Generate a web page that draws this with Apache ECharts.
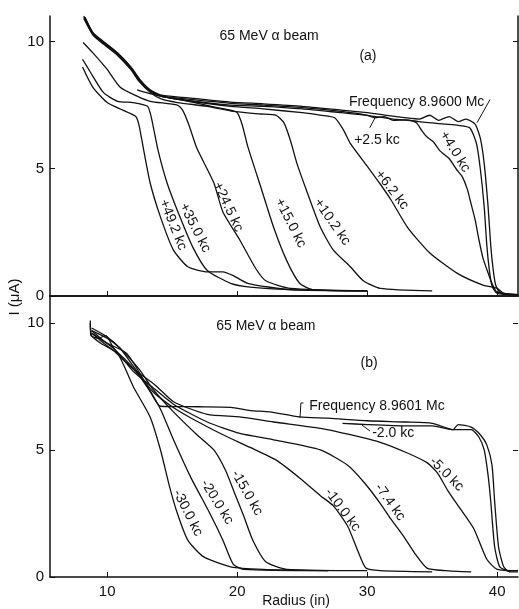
<!DOCTYPE html>
<html>
<head>
<meta charset="utf-8">
<script src="https://cdn.jsdelivr.net/npm/echarts@6/dist/echarts.min.js"></script>
<style>
html, body { margin: 0; padding: 0; background: #fff; }
#chart { width: 519px; height: 609px; }
</style>
</head>
<body>
<div id="chart"></div>
<script>
// ---- panel (a): 65 MeV alpha beam, Frequency 8.9600 Mc and offsets ----
const a_f0 = [[8.2,11.0],[8.9,10.35],[9.7,10.0],[10.8,9.55],[11.8,9.0],[12.5,8.5],[13.3,8.1],[14.1,7.9],[15.8,7.8],[19.5,7.62],[22,7.55],[25,7.45],[28,7.3],[30,7.2],[31.5,7.1],[33,7.0],[34,6.95],[34.8,7.1],[35.5,6.9],[36.3,7.05],[37,6.85],[37.6,6.95],[38.3,6.75],[38.7,6.2],[39.0,5.2],[39.3,3.5],[39.5,2.0],[39.7,1.0],[39.9,0.4],[40.3,0.1],[41.6,0.05]];
const a_p25 = [[8.3,10.95],[8.95,10.3],[9.8,9.95],[10.9,9.5],[11.9,8.95],[12.6,8.45],[13.4,8.05],[14.2,7.85],[15.8,7.75],[19.5,7.57],[22,7.5],[25,7.4],[28,7.25],[30,7.1],[30.6,7.0],[31.3,7.05],[32,6.9],[33,6.92],[34,6.85],[35,6.8],[36,6.75],[37,6.7],[37.9,6.6],[38.4,6.0],[38.7,5.0],[39.0,3.5],[39.2,2.0],[39.4,1.0],[39.6,0.4],[40.0,0.1],[41.6,0.05]];
const a_p40 = [[12.3,8.1],[13.3,7.95],[14.1,7.85],[15.8,7.7],[19.5,7.5],[22,7.45],[25,7.35],[28,7.2],[30,7.1],[32,6.95],[33.2,6.9],[33.8,6.8],[34.2,6.5],[34.6,6.25],[35.1,6.05],[35.6,5.7],[36.3,5.4],[36.9,4.95],[37.3,4.7],[37.7,4.2],[38.0,3.6],[38.3,3.0],[38.6,2.2],[38.9,1.5],[39.3,0.9],[39.6,0.5],[40,0.15],[41.6,0.05]];
const a_p62 = [[8.25,10.95],[8.9,10.3],[9.7,9.95],[10.8,9.5],[11.8,8.95],[12.5,8.45],[13.3,8.05],[14.1,7.85],[15.8,7.7],[19.5,7.45],[22,7.35],[25,7.2],[26.5,7.1],[27.5,7.0],[28.2,6.5],[28.7,6.0],[30,5.1],[31,4.4],[31.8,3.8],[33.1,2.7],[34.8,1.7],[36.9,0.9],[38.9,0.43],[40,0.3],[40.5,0.1],[41.6,0.05]];
const a_p102 = [[8.2,10.9],[8.9,10.25],[9.7,9.9],[10.8,9.45],[11.8,8.9],[12.5,8.4],[13.3,8.0],[14.1,7.75],[15.4,7.6],[17.7,7.45],[19.7,7.25],[21.8,7.15],[23.0,7.1],[23.6,6.8],[24.1,6.1],[24.6,5.2],[25.4,4.05],[26.4,2.7],[27.4,1.8],[28.7,1.15],[29.7,0.6],[31,0.3],[35,0.2]];
const a_p150 = [[8.2,10.95],[8.9,10.3],[9.7,9.95],[10.8,9.5],[11.8,8.95],[12.5,8.45],[13.3,8.05],[14.1,7.85],[15.8,7.7],[18,7.45],[19.5,7.3],[20,7.2],[20.4,6.7],[20.8,5.9],[21.8,4.3],[22.8,2.7],[23.8,1.4],[24.8,0.5],[25.8,0.25],[30,0.2]];
const a_p245 = [[8.15,9.96],[8.9,9.55],[10,8.9],[11,8.2],[12.3,7.85],[13.3,7.65],[15.4,7.5],[15.8,7.3],[16.3,6.7],[16.9,5.8],[18.2,4.45],[18.9,3.3],[20.2,2.2],[21.4,1.1],[22.2,0.6],[24.1,0.3],[30,0.2]];
const a_p350 = [[8.1,9.3],[8.7,8.8],[9.7,8.0],[10.8,7.65],[12,7.6],[13.1,7.45],[13.4,7.0],[13.9,5.75],[14.6,4.45],[15.6,3.1],[16.6,1.9],[17.7,1.0],[19.5,0.5],[21,0.35],[24,0.25],[30,0.2]];
const a_p492 = [[8.1,9.0],[8.9,8.2],[10,7.6],[11.2,7.3],[12.2,7.05],[12.45,6.7],[12.8,5.75],[13.3,4.45],[14.1,3.1],[15.1,1.8],[16.2,1.15],[17.7,0.95],[18.9,0.95],[19.7,0.8],[20.8,0.5],[24,0.25],[30,0.2]];

// ---- panel (b): Frequency 8.9601 Mc and offsets ----
const b_f0 = [[8.7,10.1],[8.75,9.5],[9.3,9.4],[9.9,9.5],[10.5,9.0],[11.5,8.5],[12.5,7.9],[13.3,7.3],[14.1,6.72],[17,6.7],[19.5,6.68],[21,6.55],[22.5,6.5],[24.8,6.3],[27,6.25],[30,6.15],[33,6.1],[35,6.05],[36.2,5.85],[36.6,5.8],[37,6.0],[38,5.9],[38.7,5.6],[39.2,5.2],[39.6,4.4],[39.8,3.0],[40.1,1.2],[40.5,0.4],[41,0.2],[41.6,0.2]];
const b_m20 = [[28.1,6.05],[30,6.0],[33,5.95],[35,5.95],[36.5,5.8],[38,5.8],[38.6,5.5],[39.0,5.0],[39.3,4.0],[39.5,3.0],[39.8,1.2],[40.2,0.4],[41,0.2]];
const b_m50 = [[8.8,9.6],[9.5,9.3],[10.5,8.9],[12,8.2],[13.7,7.55],[15.1,6.9],[17.7,6.4],[20.2,6.3],[22.8,6.1],[26.4,5.85],[28.7,5.6],[31,5.3],[33,4.9],[34.6,4.5],[35.4,4.1],[36.2,3.4],[37,2.8],[38.2,1.9],[39.2,0.7],[40,0.3],[41.6,0.25]];
const b_m74 = [[8.8,9.7],[9.6,9.35],[10.6,8.95],[12,8.1],[13.3,7.55],[15.1,6.8],[17.7,6.1],[20.2,5.65],[22.8,5.4],[26.4,5.0],[28.5,4.4],[29.8,3.7],[31,2.9],[31.8,2.3],[32.8,1.6],[33.7,0.9],[34.6,0.35],[36,0.25],[38,0.2]];
const b_m100 = [[8.8,9.8],[10,9.45],[11,9.0],[12,8.3],[13.5,7.3],[15,6.7],[16.4,6.27],[18.9,5.6],[21,5.1],[23,4.6],[24.8,3.9],[26.4,3.2],[27.4,2.8],[28.5,2.0],[29.3,1.0],[29.9,0.35],[31,0.25],[35,0.2]];
const b_m150 = [[8.8,9.7],[10,9.4],[11,9.0],[12.5,8.15],[13.5,7.4],[15.1,6.5],[16.9,5.6],[18.2,5.0],[19.1,4.2],[19.8,3.3],[20.5,2.4],[21.2,1.45],[22.2,0.6],[23.8,0.3],[30,0.25]];
const b_m200 = [[8.8,9.6],[10,9.2],[11.5,8.8],[13.1,7.5],[14.1,6.6],[15.1,5.4],[16.4,3.95],[17.9,2.5],[18.9,1.45],[19.7,0.5],[20.5,0.3],[27,0.25]];
const b_m300 = [[8.7,10.0],[8.8,9.5],[9.5,9.2],[10.8,8.8],[12,7.5],[13.3,6.3],[14.1,5.0],[14.8,3.55],[15.4,2.5],[16.2,1.45],[17.4,0.8],[19.5,0.4],[22,0.3],[27,0.25]];

// tick labels
const xTicks = [10, 20, 30, 40];
const yTicks = [0, 5, 10];

// curve labels: [text, x, y, angle in degrees]
const labelsA = [
  ['+49.2 kc', 15.06, 2.8, -68], ['+35.0 kc', 16.75, 2.68, -63], ['+24.5 kc', 19.3, 3.5, -65],
  ['+15.0 kc', 24.1, 2.87, -63], ['+10.2 kc', 27.3, 2.91, -55], ['+6.2 kc', 31.9, 4.17, -52],
  ['+4.0 kc', 36.75, 5.67, -58], ['+2.5 kc', 30.75, 6.14, 0], ['Frequency 8.9600 Mc', 33.8, 7.6, 0],
  ['65 MeV \u03b1 beam', 22.45, 10.2, 0], ['(a)', 30.06, 9.41, 0]
];
const labelsB = [
  ['-30.0 kc', 16.2, 2.52, -63], ['-20.0 kc', 18.45, 2.95, -58], ['-15.0 kc', 20.75, 3.31, -60],
  ['-10.0 kc', 28.1, 2.64, -53], ['-7.4 kc', 31.75, 2.95, -54], ['-5.0 kc', 36.1, 4.05, -45],
  ['-2.0 kc', 32.0, 5.67, 0], ['Frequency 8.9601 Mc', 30.75, 6.73, 0],
  ['65 MeV \u03b1 beam', 22.2, 9.88, 0], ['(b)', 30.14, 8.43, 0]
];
// pointer strokes from labels to curves
const pointersA = [[[30.2, 6.61], [30.6, 7.0]], [[39.45, 7.72], [38.45, 6.81]]];
const pointersB = [[[25.1, 6.85], [24.9, 6.85], [24.83, 6.26]], [[30.2, 5.75], [29.6, 5.98]]];

const curvesA = [a_f0, a_p25, a_p40, a_p62, a_p102, a_p150, a_p245, a_p350, a_p492];
const curvesB = [b_f0, b_m20, b_m50, b_m74, b_m100, b_m150, b_m200, b_m300];

const FONT = '"Liberation Sans", Arial, sans-serif';
const INK = '#111';

let myChart = echarts.init(document.getElementById('chart'), null, { renderer: 'canvas' });

function makeX(gridIndex, showLabels) {
  return {
    type: 'value', gridIndex: gridIndex, min: 5.6, max: 41.6,
    axisLine: { show: true, lineStyle: { color: INK, width: 1.5 } },
    axisTick: { show: true, inside: true, length: 5, customValues: xTicks, lineStyle: { color: INK } },
    axisLabel: { show: showLabels, customValues: xTicks, color: INK, fontSize: 15, fontFamily: FONT, margin: 7 },
    splitLine: { show: false }
  };
}
function makeY(gridIndex, max, pos, showLine, showLabels) {
  return {
    type: 'value', gridIndex: gridIndex, min: 0, max: max, position: pos,
    axisLine: { show: true, onZero: false, lineStyle: { color: showLine ? INK : 'rgba(0,0,0,0)', width: 1.5 } },
    axisTick: { show: true, inside: true, length: 5, customValues: pos === 'left' ? yTicks : [5, 10], lineStyle: { color: INK } },
    axisLabel: { show: showLabels, customValues: yTicks, color: INK, fontSize: 15, fontFamily: FONT, margin: 6 },
    splitLine: { show: false }
  };
}

let series = [];
curvesA.forEach(c => series.push({
  type: 'line', xAxisIndex: 0, yAxisIndex: 0, data: c, showSymbol: false, smooth: 0.2,
  lineStyle: { color: INK, width: 1.3 }, silent: true
}));
curvesB.forEach(c => series.push({
  type: 'line', xAxisIndex: 1, yAxisIndex: 2, data: c, showSymbol: false, smooth: 0.2,
  lineStyle: { color: INK, width: 1.3 }, silent: true
}));

let option = {
  animation: false,
  grid: [
    { left: 50, top: 16, width: 468, height: 280 },
    { left: 50, top: 296, width: 468, height: 281 }
  ],
  xAxis: [
    makeX(0, false),
    makeX(1, true),
    { type: 'value', gridIndex: 0, position: 'top', min: 5.6, max: 41.6,
      axisLine: { show: true, lineStyle: { color: INK, width: 1.5 } },
      axisTick: { show: false }, axisLabel: { show: false }, splitLine: { show: false } }
  ],
  yAxis: [
    makeY(0, 11, 'left', true, true),
    makeY(0, 11, 'right', true, false),
    makeY(1, 11.06, 'left', true, true),
    makeY(1, 11.06, 'right', false, false)
  ],
  series: series
};
myChart.setOption(option);

function textEl(pt, text, deg, size) {
  return {
    type: 'text', x: pt[0], y: pt[1], rotation: deg * Math.PI / 180, silent: true,
    style: { text: text, fill: INK, fontSize: size, fontFamily: FONT,
      align: 'center', verticalAlign: 'middle', textAlign: 'center', textVerticalAlign: 'middle' }
  };
}

function buildGraphics() {
  let els = [];
  [[labelsA, 0, pointersA], [labelsB, 1, pointersB]].forEach(([labels, g, ptrs]) => {
    labels.forEach(l => {
      const p = myChart.convertToPixel({ gridIndex: g }, [l[1], l[2]]);
      els.push(textEl(p, l[0], l[3], 14));
    });
    ptrs.forEach(pts => {
      els.push({
        type: 'polyline', silent: true,
        shape: { points: pts.map(q => myChart.convertToPixel({ gridIndex: g }, q)) },
        style: { stroke: INK, lineWidth: 1, fill: null }
      });
    });
  });
  // axis titles
  els.push(textEl([15, 297], 'I (\u03bcA)', 90, 15));
  els.push(textEl([296, 601], 'Radius (in)', 0, 14));
  myChart.setOption({ graphic: { elements: els } });
}
buildGraphics();

const resizeObserver = new ResizeObserver(() => { myChart.resize(); });
resizeObserver.observe(document.body);
</script>
</body>
</html>
